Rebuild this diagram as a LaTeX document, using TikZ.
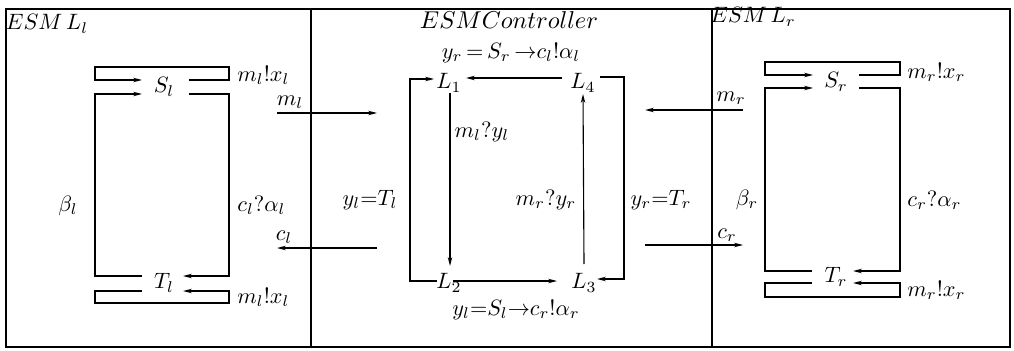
\documentclass[tikz,border=0pt]{standalone}
\usetikzlibrary{arrows.meta}
\tikzset{
  ln/.style={line width=0.5pt},
  arr/.style={ln,-{Stealth[length=4pt,width=2pt]}},
  frm/.style={line width=0.8pt},
  lbl/.style={inner sep=0pt}
}
\begin{document}
\begin{tikzpicture}[x=0.45pt,y=-0.45pt]
\useasboundingbox (0,0) rectangle (1014,350);
% frame
\draw[frm] (6,9) rectangle (1010,347);
\draw[frm] (311,9) -- (311,347);
\draw[frm] (712,9) -- (712,347);
% panel titles
\node[lbl] (tl) at (47,24) {$ESM\,L_l$};
\node[lbl,font=\fontsize{10.95}{13}\selectfont] (tc) at (509,20) {$ESMController$};
\node[lbl] (tr) at (753,17) {$ESM\,L_r$};
% ---------- left panel ----------
\node[lbl] (Sl) at (164,87) {$S_l$};
\node[lbl] (Tl) at (164,283) {$T_l$};
\draw[arr] ([shift={(25,-7)}]Sl.center) -- ++(40,0) -- ++(0,-13) -- ++(-134,0) |- ([shift={(-22,-7)}]Sl.center);
\draw[arr] ([shift={(25,7)}]Sl.center) -- ++(40,0) |- ([shift={(19,-7)}]Tl.center);
\draw[arr] ([shift={(-22,-7)}]Tl.center) -- ++(-47,0) |- ([shift={(-22,7)}]Sl.center);
\draw[arr] ([shift={(-22,8)}]Tl.center) -- ++(-47,0) -- ++(0,12) -- ++(134,0) |- ([shift={(19,8)}]Tl.center);
\node[lbl,anchor=west] (lmx1) at (237,75) {$m_l!x_l$};
\node[lbl] (lb) at (68,206) {$\beta_l$};
\node[lbl,anchor=west] (lca) at (237,205) {$c_l?\alpha_l$};
\node[lbl,anchor=west] (lmx2) at (237,297) {$m_l!x_l$};
% ---------- cross arrows ----------
\coordinate (ml0) at (277,113); \coordinate (ml1) at (377,113);
\draw[arr] (ml0) -- (ml1);
\node[lbl] (mll) at (290,102) {$m_l$};
\coordinate (cl0) at (377,248); \coordinate (cl1) at (277,248);
\draw[arr] (cl0) -- (cl1);
\node[lbl] (cll) at (284,237) {$c_l$};
\coordinate (mr0) at (743,110); \coordinate (mr1) at (645,110);
\draw[arr] (mr0) -- (mr1);
\node[lbl] (mrl) at (731,98) {$m_r$};
\coordinate (cr0) at (645,245); \coordinate (cr1) at (743,245);
\draw[arr] (cr0) -- (cr1);
\node[lbl] (crl) at (727,235) {$c_r$};
% ---------- controller ----------
\node[lbl] (L1) at (449,83) {$L_1$};
\node[lbl] (L4) at (583,83) {$L_4$};
\node[lbl] (L2) at (449,283) {$L_2$};
\node[lbl] (L3) at (584,283) {$L_3$};
\draw[arr] ([shift={(-21,-5)}]L4.center) -- ([shift={(17,-5)}]L1.center);
\draw[arr] ([shift={(-12,-2)}]L2.center) -- ++(-27,0) |- ([shift={(-15,-4)}]L1.center);
\draw[arr] ([shift={(1,10)}]L1.center) -- ([shift={(1,-17)}]L2.center);
\draw[arr] ([shift={(4,-2)}]L2.center) -- ([shift={(-27,-2)}]L3.center);
\draw[arr] ([shift={(0,-19)}]L3.center) -- ([shift={(0,11)}]L4.center);
\draw[arr] ([shift={(17,-6)}]L4.center) -- ++(24,0) |- ([shift={(13,-4)}]L3.center);
\node[lbl] (c1) at (511,53) {$y_r\,{=}\,S_r\,{\rightarrow}c_l!\alpha_l$};
\node[lbl] (c2) at (482,132) {$m_l?y_l$};
\node[lbl] (c3) at (370,200) {$y_l{=}T_l$};
\node[lbl] (c4) at (546,200) {$m_r?y_r$};
\node[lbl] (c5) at (661,200) {$y_r{=}T_r$};
\node[lbl] (c6) at (516,310) {$y_l{=}S_l{\rightarrow}c_r!\alpha_r$};
% ---------- right panel ----------
\node[lbl] (Sr) at (836,82) {$S_r$};
\node[lbl] (Tr) at (836,277) {$T_r$};
\draw[arr] ([shift={(23,-7)}]Sr.center) -- ++(41,0) -- ++(0,-13) -- ++(-135,0) |- ([shift={(-23,-7)}]Sr.center);
\draw[arr] ([shift={(23,6)}]Sr.center) -- ++(41,0) |- ([shift={(17,-6)}]Tr.center);
\draw[arr] ([shift={(-24,-6)}]Tr.center) -- ++(-47,0) |- ([shift={(-23,6)}]Sr.center);
\draw[arr] ([shift={(-24,6)}]Tr.center) -- ++(-47,0) -- ++(0,14) -- ++(135,0) |- ([shift={(17,6)}]Tr.center);
\node[lbl,anchor=west] (rmx1) at (907,72) {$m_r!x_r$};
\node[lbl] (rb) at (747,200) {$\beta_r$};
\node[lbl,anchor=west] (rca) at (907,200) {$c_r?\alpha_r$};
\node[lbl,anchor=west] (rmx2) at (907,290) {$m_r!x_r$};
\end{tikzpicture}
\end{document}
